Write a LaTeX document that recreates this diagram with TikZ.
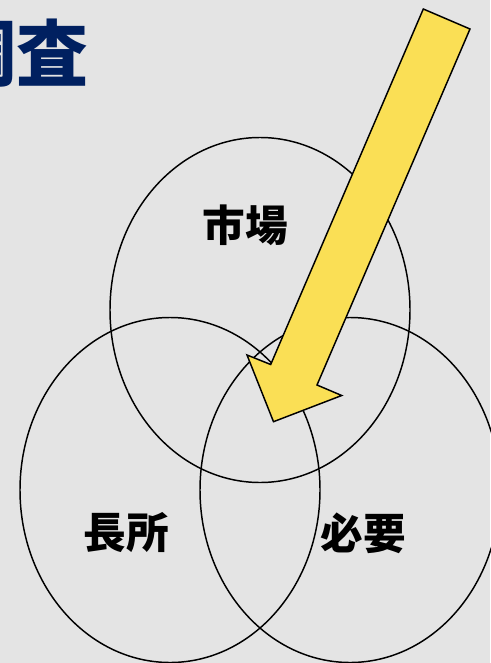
\documentclass[tikz,border=0pt]{standalone}
\usepackage{fontspec}
\newfontfamily\jpfont{Noto Sans CJK JP}
\usetikzlibrary{shapes.geometric,positioning}
\definecolor{titleblue}{RGB}{0,32,96}
\definecolor{arrowyellow}{RGB}{250,223,85}
\definecolor{slidegray}{RGB}{228,228,228}
\tikzset
{
    venn/.style     = {ellipse, draw=black, line width=1.1pt, minimum width=225pt, minimum height=258.75pt, inner sep=0pt},
    word/.style     = {font=\jpfont\bfseries\fontsize{32}{32}\selectfont, inner sep=0pt},
    heading/.style  = {font=\jpfont\bfseries\fontsize{54}{54}\selectfont, text=titleblue, inner sep=0pt},
    bigarrow/.style = {draw=black, line width=1.1pt, fill=arrowyellow, line join=miter}
}
\begin{document}
\begin{tikzpicture}[x=0.75pt, y=-0.75pt]
	\fill [slidegray] (0,0) rectangle (490,663);
	\useasboundingbox (0,0) rectangle (490,663);
	\node (title) [heading] at (17,53) {調査};

	\node (market)   [venn] at (260,310) {};
	\node (strength) [venn] at (170,490) {};
	\node (need)     [venn] at (350,490) {};

	\node (marketlbl)   [word] at (245,225) {市場};
	\node (strengthlbl) [word] at (126,533) {長所};
	\node (needlbl)     [word] at (363,533) {必要};

	% pointer into the overlap
	\draw [bigarrow] (423.3,9) -- (470,29) -- (317,385) -- (341.7,395.5) -- (273.5,421.7) -- (247,355) -- (270.7,364.5) -- cycle;
\end{tikzpicture}
\end{document}
